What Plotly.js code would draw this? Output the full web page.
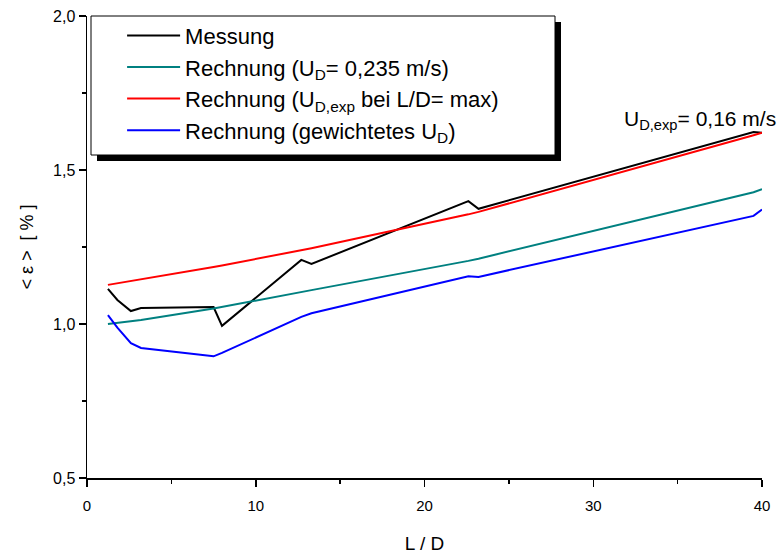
<!DOCTYPE html>
<html>
<head>
<meta charset="utf-8">
<script src="https://cdn.plot.ly/plotly-3.0.1.min.js"></script>
<style>html,body{margin:0;padding:0;background:#fff;}#chart{width:780px;height:560px;}</style>
</head>
<body>
<div id="chart"></div>
<script>
// Data
const xMessung = [1.24, 1.8, 2.6, 3.2, 7.5, 8.0, 12.7, 13.3, 22.6, 23.2, 39.5, 40];
const yMessung = [1.114, 1.078, 1.042, 1.052, 1.055, 0.994, 1.208, 1.195, 1.399, 1.374, 1.623, 1.621];

const xRechnung = [1.24, 1.8, 2.6, 3.2, 7.5, 8.0, 12.7, 13.3, 22.6, 23.2, 39.5, 40];
const yRechnungUD = [1.0, 1.004, 1.009, 1.013, 1.05, 1.055, 1.104, 1.11, 1.205, 1.212, 1.428, 1.438];
const yRechnungExp = [1.127, 1.132, 1.14, 1.146, 1.185, 1.19, 1.24, 1.246, 1.356, 1.364, 1.613, 1.621];
const yRechnungGew = [1.029, 0.988, 0.938, 0.922, 0.895, 0.906, 1.023, 1.035, 1.155, 1.153, 1.351, 1.372];

const names = [
  'Messung',
  'Rechnung (U<sub>D</sub>= 0,235 m/s)',
  'Rechnung (U<sub>D,exp</sub> bei L/D= max)',
  'Rechnung (gewichtetes U<sub>D</sub>)'
];
const colors = ['#000000', '#008080', '#ff0000', '#0000ff'];
const xTitle = 'L / D';
const yTitle = '< ε >  [ % ]';
const annotText = 'U<sub>D,exp</sub>= 0,16 m/s';

const font = 'Arial, "Liberation Sans", sans-serif';

const traces = [
  {x: xMessung, y: yMessung, name: names[0], mode: 'lines', line: {color: colors[0], width: 2}},
  {x: xRechnung, y: yRechnungUD, name: names[1], mode: 'lines', line: {color: colors[1], width: 2}},
  {x: xRechnung, y: yRechnungExp, name: names[2], mode: 'lines', line: {color: colors[2], width: 2}},
  {x: xRechnung, y: yRechnungGew, name: names[3], mode: 'lines', line: {color: colors[3], width: 2}}
];

const layout = {
  width: 780, height: 560,
  margin: {l: 87, r: 18, t: 16, b: 82, pad: 0},
  paper_bgcolor: '#fff', plot_bgcolor: '#fff',
  separators: ',.',
  font: {family: font, color: '#000', size: 15},
  showlegend: true,
  legend: {
    x: 0.052, y: 1.003, xanchor: 'left', yanchor: 'top',
    bgcolor: 'rgba(0,0,0,0)', borderwidth: 0,
    font: {family: font, size: 22, color: '#000'},
    itemwidth: 53, tracegroupgap: 0
  },
  xaxis: {
    range: [0, 40], dtick: 10, tick0: 0, showgrid: false, zeroline: false,
    showline: true, linecolor: '#000', linewidth: 1.5, mirror: false,
    ticks: 'outside', ticklen: 7, tickwidth: 1.5, tickcolor: '#000',
    minor: {dtick: 5, ticks: 'outside', ticklen: 4, tickwidth: 1.5, tickcolor: '#000', showgrid: false},
    tickfont: {family: font, size: 15}, ticklabelstandoff: 6,
    title: {text: xTitle, font: {family: font, size: 19}, standoff: 24}
  },
  yaxis: {
    range: [0.5, 2.0], dtick: 0.5, tick0: 0.5, tickformat: '.1f', showgrid: false, zeroline: false,
    showline: true, linecolor: '#000', linewidth: 1.5, mirror: false,
    ticks: 'outside', ticklen: 7, tickwidth: 1.5, tickcolor: '#000',
    minor: {dtick: 0.25, ticks: 'outside', ticklen: 4, tickwidth: 1.5, tickcolor: '#000', showgrid: false},
    tickfont: {family: font, size: 16},
    title: {text: yTitle, font: {family: font, size: 18}, standoff: 14}
  },
  shapes: [
    {type: 'rect', xref: 'paper', yref: 'paper', x0: 10/675, x1: 474/675, y0: 1 - 145/462, y1: 1 - 6/462,
     fillcolor: '#000', line: {width: 0}, layer: 'above'},
    {type: 'rect', xref: 'paper', yref: 'paper', x0: 4/675, x1: 468/675, y0: 1 - 139/462, y1: 1,
     fillcolor: '#fff', line: {color: '#000', width: 1}, layer: 'above'}
  ],
  annotations: [
    {xref: 'paper', yref: 'paper', x: 1.024, y: 1 - 104/462, xanchor: 'right', yanchor: 'middle',
     text: annotText, showarrow: false, font: {family: font, size: 21, color: '#000'}}
  ]
};

Plotly.newPlot('chart', traces, layout, {displayModeBar: false, staticPlot: true});
</script>
</body>
</html>
